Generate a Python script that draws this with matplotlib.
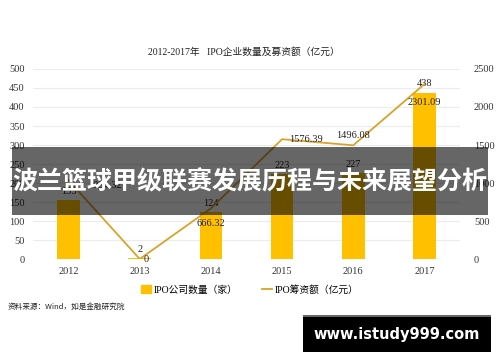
import matplotlib
matplotlib.use("Agg")
import matplotlib.pyplot as plt
from matplotlib.patches import Rectangle
from matplotlib.lines import Line2D

years = ["2012", "2013", "2014", "2015", "2016", "2017"]
ipo_count = [155, 2, 124, 223, 227, 438]
ipo_funds = [1034.32, 0, 666.32, 1576.39, 1496.08, 2301.09]
left_ticks = [0, 50, 100, 150, 200, 250, 300, 350, 400, 450, 500]
right_ticks = [0, 500, 1000, 1500, 2000, 2500]

BAR = "#FFC000"
LINE = "#D9A32A"
SERIF = ["Liberation Serif", "Noto Sans CJK SC"]
CJK = ["Noto Sans CJK SC", "DejaVu Sans"]

fig = plt.figure(figsize=(5.0, 3.62), dpi=100)
ax = fig.add_axes([0.066, 0.2845, 0.854, 0.5249])
x = list(range(len(years)))
ax.bar(x, ipo_count, width=0.32, color=BAR, zorder=2)
ax.set_xlim(-0.5, 5.5)
ax.set_ylim(0, 500)
ax.set_yticks(left_ticks)
ax.grid(axis="y", color="#ececec", linewidth=0.8, zorder=0)
ax.set_axisbelow(True)
for s in ax.spines.values():
    s.set_visible(False)
ax.tick_params(length=0, labelsize=7.5, colors="#333333", pad=6)
ax.set_xticks(x)
ax.set_xticklabels(years, fontfamily=SERIF)
for lab in ax.get_yticklabels():
    lab.set_fontfamily(SERIF)

ax2 = ax.twinx()
ax2.plot(x, ipo_funds, color=LINE, linewidth=1.3, zorder=3)
ax2.set_ylim(0, 2500)
ax2.set_yticks(right_ticks)
for s in ax2.spines.values():
    s.set_visible(False)
ax2.tick_params(length=0, labelsize=7.5, colors="#333333", pad=10)
for lab in ax2.get_yticklabels():
    lab.set_fontfamily(SERIF)

# bar labels
for xi, v in zip(x, ipo_count):
    ax.annotate(str(v), (xi, v), xytext=(0, 3), textcoords="offset points",
                ha="center", va="bottom", fontsize=7.5, fontfamily=SERIF, color="#222222")
# line labels: (dx, dy, ha, va)
line_offsets = [(14, -4, "left", "center"), (3, 0, "left", "center"), (0, -8, "center", "top"),
                (5, 0, "left", "center"), (0, 4, "center", "bottom"), (0, -10, "center", "top")]
for xi, v, (dx, dy, ha, va) in zip(x, ipo_funds, line_offsets):
    txt = ("%.2f" % v) if v != 0 else "0"
    ax2.annotate(txt, (xi, v), xytext=(dx, dy), textcoords="offset points",
                 ha=ha, va=va, fontsize=7.5, fontfamily=SERIF, color="#222222")

fig.text(0.488, 0.855, "2012-2017年   IPO企业数量及募资额（亿元）", ha="center", va="center",
         fontsize=7, fontfamily=SERIF, color="#222222")

# legend
h1 = Rectangle((0, 0), 1, 1, color=BAR)
h2 = Line2D([0], [0], color=LINE, linewidth=1.3)
fig.legend([h1, h2], ["IPO公司数量（家）", "IPO筹资额（亿元）"], loc="center",
           bbox_to_anchor=(0.5, 0.2), ncol=2, frameon=False,
           handlelength=1.0, handleheight=0.8, columnspacing=2.5, handletextpad=0.3,
           prop={"family": SERIF, "size": 7})

fig.text(0.016, 0.152, "资料来源：Wind，如是金融研究院", ha="left", va="center",
         fontsize=5.5, fontfamily=CJK, color="#222222")

# banner overlay
fig.patches.append(Rectangle((0.024, 1 - 215 / 362), 0.952, 68 / 362, transform=fig.transFigure,
                             facecolor="black", alpha=0.6, edgecolor="none", zorder=10))
fig.text(0.5, 1 - 182 / 362, "波兰篮球甲级联赛发展历程与未来展望分析", ha="center", va="center",
         fontsize=18, fontweight="bold", fontfamily=CJK, color="white", zorder=11)

# bottom watermark
fig.patches.append(Rectangle((0.606, 1 - 352 / 362), 0.376, 36 / 362, transform=fig.transFigure,
                             facecolor="black", edgecolor="none", zorder=10))
fig.patches.append(Rectangle((0.606, 1 - 317 / 362), 0.376, 2 / 362, transform=fig.transFigure,
                             facecolor="#666666", edgecolor="none", zorder=11))
fig.text(0.794, 1 - 335 / 362, "www.istudy999.com", ha="center", va="center",
         fontsize=10.5, fontweight="bold", fontfamily=["DejaVu Sans"], color="white", zorder=11)

fig.savefig("out.png", dpi=100)
